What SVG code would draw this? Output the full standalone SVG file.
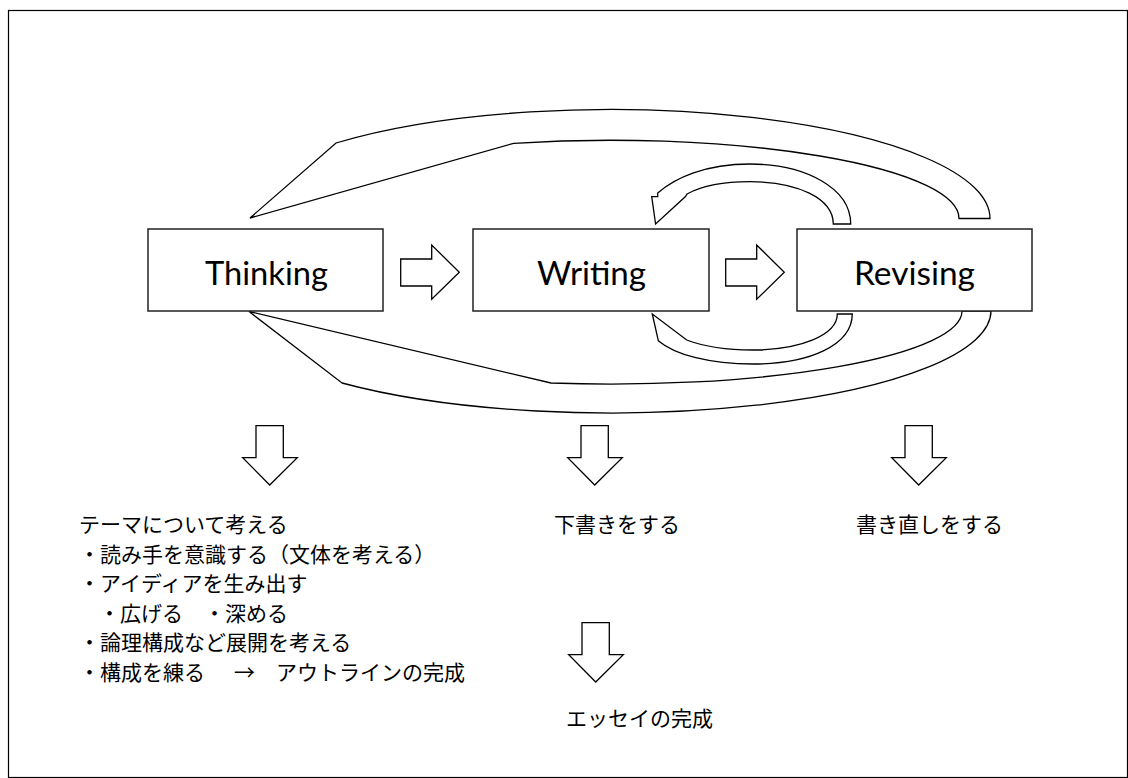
<svg xmlns="http://www.w3.org/2000/svg" width="1128" height="778" viewBox="0 0 1128 778">
<style>
.frame{fill:none;stroke:#000;stroke-width:1.2}
.shape{fill:#fff;stroke:#000;stroke-width:1.3;stroke-linejoin:miter}
.box{fill:#fff;stroke:#222;stroke-width:1.5}
.lbl{font-family:Lato,"Open Sans","Liberation Sans",sans-serif;font-size:32px;fill:#000}
.jp{font-family:"Noto Sans CJK JP","Noto Sans",sans-serif;font-size:21px;fill:#000}
</style>
<defs>
<path id="rarrow" d="M400.7,259 L431.7,259 L431.7,245 L459.3,272.3 L431.7,299.3 L431.7,286 L400.7,286 Z"/>
<path id="darrow" d="M256,425.7 L283.3,425.7 L283.3,457.7 L297.3,457.7 L269.7,485 L242.7,457.7 L256,457.7 Z"/>
</defs>
<rect class="frame" x="8.5" y="10.5" width="1119" height="767"/>
<g id="connectors">
<path class="shape" d="M990,218.5 A380,109 0 0 0 336,143 L250,218 L513.6,143.3 A349,78.2 0 0 1 959,218.5 Z"/>
<path class="shape" d="M991,311 A380,102 0 0 1 342,383 L249,311.5 L551,383 A351,73.1 0 0 0 962,311 Z"/>
<path class="shape" d="M850.7,224 C850.7,188 805,164 750,164 C705,164 675,178 657.7,193 L657.7,196.7 L651.7,196.7 L655.6,224 L685.5,196.5 L687,194 C700,187 720,181.7 750,181.7 C797,181.7 833.3,198 833.3,224 Z"/>
<path class="shape" d="M852.3,314 C852,345 810,364 753,364 C710,364 675,355 658.3,340.7 L652.3,314 L686.7,340 C705,347 728,350 753,350 C800,350 837.3,335 837.3,314 Z"/>
<use href="#rarrow" class="shape"/>
<use href="#rarrow" class="shape" transform="translate(325,0)"/>
<use href="#darrow" class="shape"/>
<use href="#darrow" class="shape" transform="translate(325,0)"/>
<use href="#darrow" class="shape" transform="translate(649,0)"/>
<use href="#darrow" class="shape" transform="translate(326,197)"/>
</g>
<g id="thinking">
<rect class="box" x="148" y="229" width="235" height="82"/>
<text class="lbl" x="205" y="285" textLength="123" lengthAdjust="spacingAndGlyphs">Thinking</text>
</g>
<g id="writing">
<rect class="box" x="473" y="229" width="236" height="82"/>
<text class="lbl" x="537" y="285" textLength="109" lengthAdjust="spacingAndGlyphs">Writing</text>
</g>
<g id="revising">
<rect class="box" x="797" y="229" width="235" height="82"/>
<text class="lbl" x="854" y="285" textLength="121" lengthAdjust="spacingAndGlyphs">Revising</text>
</g>
<g id="thinking-notes">
<text class="jp" x="79" y="532">テーマについて考える</text>
<text class="jp" x="79" y="561.5">・読み手を意識する（文体を考える）</text>
<text class="jp" x="79" y="591">・アイディアを生み出す</text>
<text class="jp" y="620.5"><tspan x="99">・広げる</tspan><tspan x="204">・深める</tspan></text>
<text class="jp" x="79" y="650">・論理構成など展開を考える</text>
<text class="jp" y="679.5"><tspan x="79">・構成を練る</tspan><tspan x="234">→</tspan><tspan x="276">アウトラインの完成</tspan></text>
</g>
<g id="writing-note">
<text class="jp" x="554" y="532">下書きをする</text>
</g>
<g id="revising-note">
<text class="jp" x="856" y="532">書き直しをする</text>
</g>
<g id="result">
<text class="jp" x="566" y="726">エッセイの完成</text>
</g>
</svg>
